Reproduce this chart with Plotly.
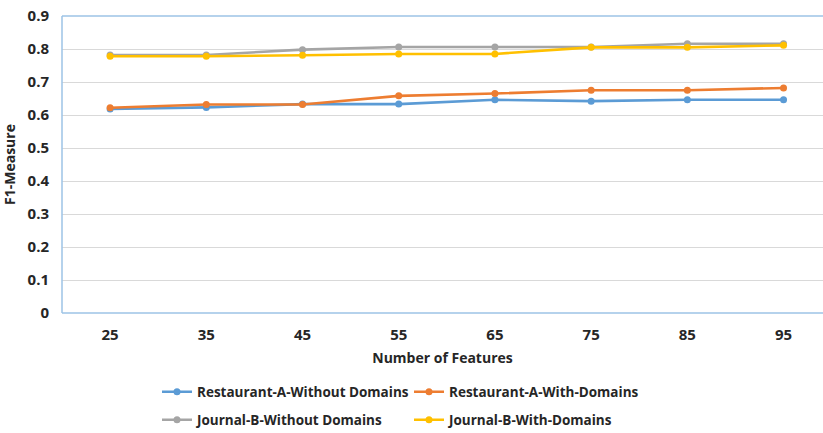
import plotly.graph_objects as go

# Number of features evaluated
features = ["25", "35", "45", "55", "65", "75", "85", "95"]

# F1-measure per configuration
restaurant_a_without = [0.618, 0.623, 0.633, 0.633, 0.646, 0.642, 0.646, 0.646]
restaurant_a_with = [0.622, 0.632, 0.632, 0.658, 0.665, 0.675, 0.675, 0.682]
journal_b_without = [0.782, 0.782, 0.798, 0.806, 0.806, 0.806, 0.816, 0.816]
journal_b_with = [0.778, 0.778, 0.781, 0.785, 0.785, 0.805, 0.805, 0.811]

series_names = [
    "Restaurant-A-Without Domains",
    "Restaurant-A-With-Domains",
    "Journal-B-Without Domains",
    "Journal-B-With-Domains",
]
series_values = [restaurant_a_without, restaurant_a_with, journal_b_without, journal_b_with]
series_colors = ["#5B9BD5", "#ED7D31", "#A5A5A5", "#FFC000"]
# legend row for each series
series_legend = ["legend", "legend", "legend2", "legend2"]

FONT = "Open Sans"
TEXT = "#262626"
frame_color = "#9DC3E6"

fig = go.Figure()
for name, vals, col, lg in zip(series_names, series_values, series_colors, series_legend):
    fig.add_trace(go.Scatter(
        x=features, y=vals, name=name, mode="lines+markers",
        line=dict(color=col, width=2.6),
        marker=dict(color=col, size=7),
        legend=lg,
    ))

legend_common = dict(
    orientation="h", xanchor="left", yanchor="middle",
    xref="container", yref="container",
    entrywidth=207, entrywidthmode="pixels", itemwidth=30,
    font=dict(family=FONT, size=13.5, color=TEXT, weight="bold"),
    bgcolor="rgba(0,0,0,0)",
)

fig.update_layout(
    width=823, height=433,
    margin=dict(l=62, r=0, t=16, b=120, autoexpand=False),
    paper_bgcolor="white", plot_bgcolor="white",
    font=dict(family=FONT, color=TEXT),
    showlegend=True,
    legend=dict(x=157 / 823, y=1 - 392 / 433, **legend_common),
    legend2=dict(x=157 / 823, y=1 - 420 / 433, **legend_common),
    xaxis=dict(
        type="category", range=[-0.5, 7.41],
        showgrid=False, showline=False, zeroline=False,
        ticks="outside", ticklen=8, tickcolor="rgba(0,0,0,0)",
        tickfont=dict(family=FONT, size=15, color=TEXT, weight="bold"),
        title=dict(text="Number of Features", standoff=10,
                   font=dict(family=FONT, size=14, color=TEXT, weight="bold")),
    ),
    yaxis=dict(
        range=[0, 0.9], dtick=0.1, tick0=0,
        showgrid=True, gridcolor="#D9D9D9", gridwidth=1,
        zeroline=False, showline=False,
        ticks="outside", ticklen=9, tickcolor="rgba(0,0,0,0)",
        tickfont=dict(family=FONT, size=15, color=TEXT, weight="bold"),
        title=dict(text="F1-Measure", standoff=8,
                   font=dict(family=FONT, size=14, color=TEXT, weight="bold")),
    ),
)

# Plot-area frame: left, top and bottom edges
for x0, y0, x1, y1 in [(0, 0, 0, 1), (0, 1, 1, 1), (0, 0, 1, 0)]:
    fig.add_shape(type="line", xref="paper", yref="paper",
                  x0=x0, y0=y0, x1=x1, y1=y1,
                  line=dict(color=frame_color, width=1.5), layer="above")

fig.write_html("out.html")
